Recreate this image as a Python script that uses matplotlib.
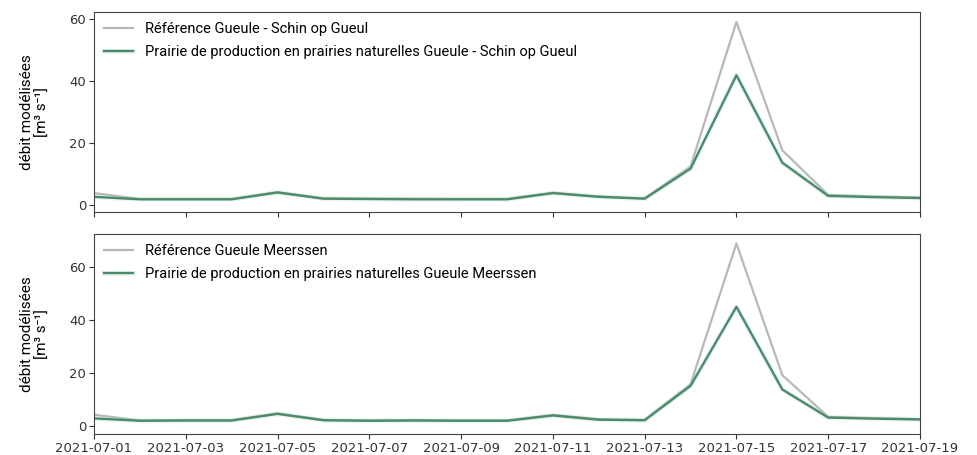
import matplotlib
matplotlib.use("Agg")
import matplotlib.pyplot as plt
import matplotlib.dates as mdates
import matplotlib.patheffects as pe
import pandas as pd

dates = pd.date_range("2021-07-01", "2021-07-19", freq="D")

# Gueule - Schin op Gueul
ref_schin = [3.9, 2.0, 2.0, 2.0, 4.2, 2.2, 2.1, 2.1, 2.0, 2.0, 4.0, 2.8, 2.2,
             12.5, 59.1, 17.7, 3.3, 2.8, 2.5]
prairie_schin = [2.7, 1.9, 1.9, 1.9, 4.1, 2.1, 2.0, 1.9, 1.9, 1.9, 3.9, 2.7, 2.1,
                 11.8, 41.9, 13.7, 3.0, 2.6, 2.3]

# Gueule Meerssen
ref_meerssen = [4.3, 2.1, 2.2, 2.2, 4.8, 2.3, 2.1, 2.2, 2.1, 2.1, 4.2, 2.6, 2.3,
                15.8, 68.9, 19.2, 3.5, 3.0, 2.6]
prairie_meerssen = [2.9, 2.0, 2.1, 2.1, 4.6, 2.2, 2.0, 2.1, 2.0, 2.0, 4.0, 2.4, 2.2,
                    15.2, 45.0, 13.8, 3.2, 2.8, 2.5]

labels_schin = ["Référence Gueule - Schin op Gueul",
                "Prairie de production en prairies naturelles Gueule - Schin op Gueul"]
labels_meerssen = ["Référence Gueule Meerssen",
                   "Prairie de production en prairies naturelles Gueule Meerssen"]

gray = "#b8b8b8"
green = "#4d8a6c"
glow = [pe.Stroke(linewidth=3.5, foreground="#b5e0c8", alpha=0.3), pe.Normal()]
roboto = ["Roboto", "DejaVu Sans"]

fig = plt.figure(figsize=(9.78, 4.55), dpi=100)
W, H = 978, 455
ax1 = fig.add_axes([94 / W, (H - 212) / H, 826 / W, 200 / H])
ax2 = fig.add_axes([94 / W, (H - 434) / H, 826 / W, 200 / H])

panels = [(ax1, ref_schin, prairie_schin, labels_schin, (-2.2, 62.3)),
          (ax2, ref_meerssen, prairie_meerssen, labels_meerssen, (-3.0, 72.5))]

for ax, ref, prai, labs, ylim in panels:
    ax.plot(dates, ref, color=gray, lw=1.6, label=labs[0])
    ax.plot(dates, prai, color=green, lw=1.7, label=labs[1], path_effects=glow)
    ax.set_xlim(dates[0], dates[-1])
    ax.set_ylim(*ylim)
    ax.set_yticks([0, 20, 40, 60])
    ax.xaxis.set_major_locator(mdates.DayLocator(interval=2))
    ax.xaxis.set_major_formatter(mdates.DateFormatter("%Y-%m-%d"))
    ax.tick_params(labelsize=9.5, colors="#333333", pad=2)
    for s in ax.spines.values():
        s.set_color("#444444")
    ax.set_ylabel("débit modélisées\n[m³ s⁻¹]", fontsize=11, family=roboto,
                  linespacing=1.15, labelpad=14)
    ax.legend(loc="upper left", frameon=False,
              prop={"family": roboto, "size": 10.5},
              borderaxespad=0.3, labelspacing=0.6)

ax1.tick_params(labelbottom=False)

fig.savefig("out.png", dpi=100)
